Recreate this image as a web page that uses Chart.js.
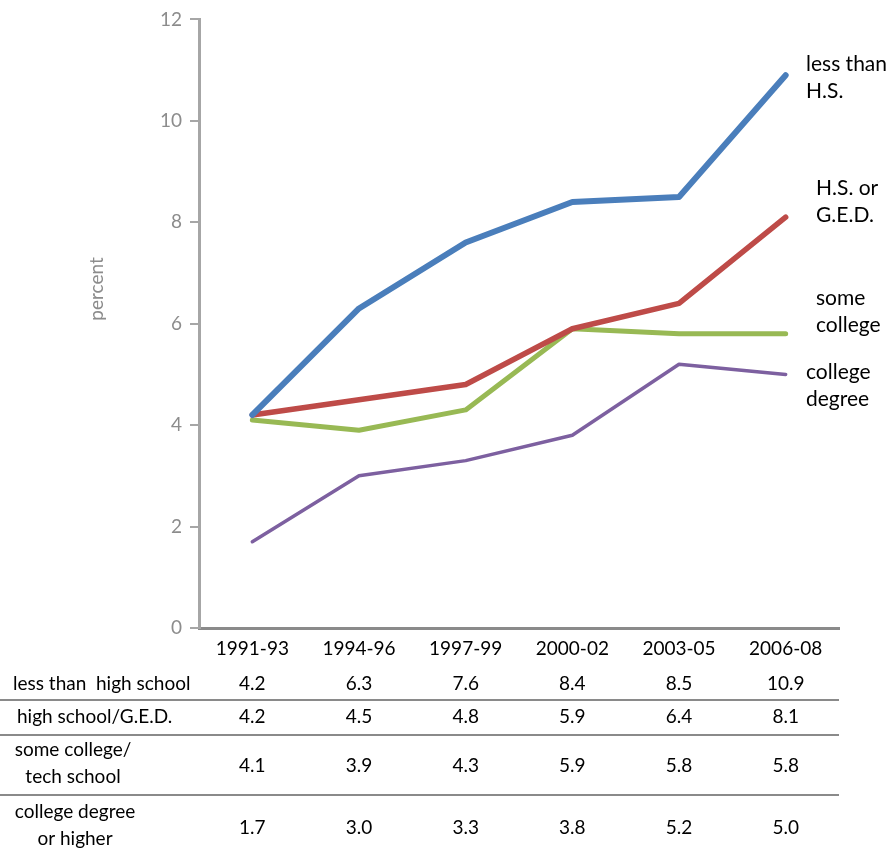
<!DOCTYPE html>
<html>
<head>
<meta charset="utf-8">
<script src="https://cdn.jsdelivr.net/npm/chart.js@4/dist/chart.umd.min.js"></script>
<style>
  html, body { margin: 0; padding: 0; background: #fff; }
  canvas { display: block; }
</style>
</head>
<body>
<canvas id="c" width="894" height="851"></canvas>
<script>
// Rate by education level, three-year periods
const periods = ['1991-93', '1994-96', '1997-99', '2000-02', '2003-05', '2006-08'];
const lessThanHS = [4.2, 6.3, 7.6, 8.4, 8.5, 10.9];
const hsGED = [4.2, 4.5, 4.8, 5.9, 6.4, 8.1];
const someCollege = [4.1, 3.9, 4.3, 5.9, 5.8, 5.8];
const collegeDegree = [1.7, 3.0, 3.3, 3.8, 5.2, 5.0];

const lineLabels = [['less than', 'H.S.'], ['H.S. or', 'G.E.D.'], ['some', 'college'], ['college', 'degree']];
const rowLabels = [['less than  high school'], ['high school/G.E.D.'], ['some college/', 'tech school'], ['college degree', 'or higher']];

const FONT = 'Lato, "Open Sans", sans-serif';

// Text annotations: axis title, end-of-line labels and the data table
const annotations = {
  id: 'annotations',
  afterDraw(chart) {
    const ctx = chart.ctx;
    const x = chart.scales.x;
    const area = chart.chartArea;
    ctx.save();

    // y axis title
    ctx.fillStyle = '#8c8c8c';
    ctx.font = '19px ' + FONT;
    ctx.translate(97, 289);
    ctx.rotate(-Math.PI / 2);
    ctx.textAlign = 'center';
    ctx.textBaseline = 'middle';
    ctx.fillText('percent', 0, 0);
    ctx.setTransform(1, 0, 0, 1, 0, 0);

    // labels next to the line ends
    ctx.fillStyle = '#000';
    ctx.font = '21px ' + FONT;
    ctx.textAlign = 'left';
    const labelPos = [[806, 64], [816, 188], [816, 298], [806, 372]];
    lineLabels.forEach((lines, i) => {
      lines.forEach((t, j) => ctx.fillText(t, labelPos[i][0], labelPos[i][1] + j * 27));
    });

    // data table
    const series = [lessThanHS, hsGED, someCollege, collegeDegree];
    const rowY = [684, 717, 766, 828];
    const labelStyle = [
      { align: 'left', x: 13, ys: [684] },
      { align: 'left', x: 17, ys: [717] },
      { align: 'center', x: 73, ys: [750, 777] },
      { align: 'center', x: 75, ys: [812, 839] }
    ];
    ctx.font = '19px ' + FONT;
    ctx.fillStyle = '#000';
    rowLabels.forEach((lines, i) => {
      const s = labelStyle[i];
      ctx.textAlign = s.align;
      lines.forEach((t, j) => ctx.fillText(t, s.x, s.ys[j]));
    });
    ctx.textAlign = 'center';
    series.forEach((vals, i) => {
      vals.forEach((v, k) => ctx.fillText(v.toFixed(1), x.getPixelForValue(k), rowY[i]));
    });

    // row separators
    ctx.strokeStyle = '#8a8a8a';
    ctx.lineWidth = 2;
    [700, 735, 795].forEach(y => {
      ctx.beginPath();
      ctx.moveTo(0, y);
      ctx.lineTo(area.right, y);
      ctx.stroke();
    });
    ctx.restore();
  }
};

function series(label, data, color, width) {
  return {
    label, data,
    borderColor: color,
    backgroundColor: color,
    borderWidth: width,
    pointRadius: 0,
    pointHoverRadius: 0,
    tension: 0,
    borderCapStyle: 'round',
    borderJoinStyle: 'round',
    fill: false
  };
}

new Chart(document.getElementById('c'), {
  type: 'line',
  data: {
    labels: periods,
    datasets: [
      series('less than high school', lessThanHS, '#4a7ebb', 6),
      series('high school/G.E.D.', hsGED, '#be4b48', 5.5),
      series('some college/tech school', someCollege, '#98b954', 5),
      series('college degree or higher', collegeDegree, '#7d60a0', 3.5)
    ]
  },
  options: {
    responsive: false,
    animation: false,
    events: [],
    layout: { padding: { left: 0, right: 55, top: 18, bottom: 183 } },
    plugins: { legend: { display: false }, tooltip: { enabled: false } },
    scales: {
      x: {
        type: 'category',
        offset: true,
        grid: { display: false, drawTicks: false },
        border: { display: true, color: '#8a8a8a', width: 3 },
        ticks: { color: '#000', font: { family: FONT, size: 19 }, padding: 9, maxRotation: 0 },
        afterFit(scale) { scale.height = 40; }
      },
      y: {
        min: 0, max: 12,
        grid: { drawOnChartArea: false, color: '#a6a6a6', lineWidth: 2, tickLength: 9 },
        border: { display: true, color: '#a6a6a6', width: 3 },
        ticks: { stepSize: 2, color: '#8c8c8c', font: { family: FONT, size: 19 }, padding: 8 },
        afterFit(scale) { scale.width = 199; }
      }
    }
  },
  plugins: [annotations]
});
</script>
</body>
</html>
